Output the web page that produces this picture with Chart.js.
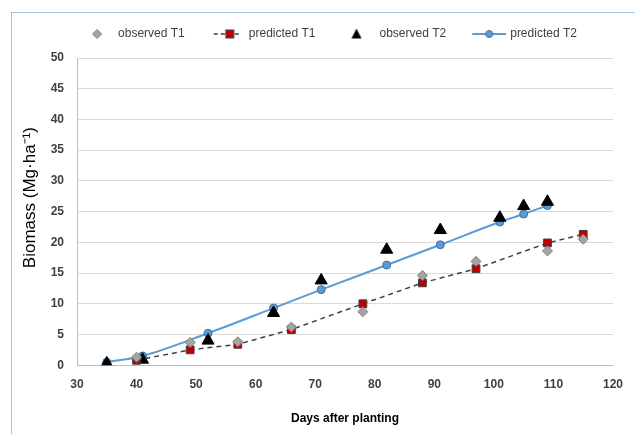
<!DOCTYPE html>
<html>
<head>
<meta charset="utf-8">
<script src="https://cdn.jsdelivr.net/npm/chart.js@4.4.1/dist/chart.umd.min.js"></script>
<style>
  html, body { margin: 0; padding: 0; background: #fff; }
  #wrap { width: 635px; height: 434px; }
</style>
</head>
<body>
<div id="wrap"><canvas id="biomassChart" width="635" height="434"></canvas></div>
<script>
// days after planting
const daysT1 = [40, 49, 57, 66, 78, 88, 97, 109, 115];
const daysT2 = [35, 41, 52, 63, 71, 82, 91, 101, 105, 109];

// biomass, Mg/ha
const observedT1 = [1.3, 3.7, 3.8, 6.2, 8.7, 14.6, 16.9, 18.6, 20.5];
const predictedT1 = [0.8, 2.5, 3.4, 5.8, 10.0, 13.4, 15.7, 19.9, 21.3];
const observedT2 = [0.3, 0.9, 4.0, 8.5, 13.8, 18.8, 22.0, 24.0, 25.9, 26.6];
const predictedT2 = [0.5, 1.5, 5.2, 9.3, 12.3, 16.3, 19.6, 23.3, 24.6, 26.0];

const seriesNames = ['observed T1', 'predicted T1', 'observed T2', 'predicted T2'];
const yTitle = 'Biomass (Mg·ha⁻¹)';
const xTitle = 'Days after planting';

function toPoints(xs, ys) {
    return xs.map((x, i) => ({ x: x, y: ys[i] }));
}

// little legend pictures: marker, optionally with a line through it
function legendIcon(kind) {
    const c = document.createElement('canvas');
    c.width = 40;
    c.height = 14;
    const g = c.getContext('2d');
    const cy = 7;
    if (kind === 'predT1') {
        const cx = 25;
        g.strokeStyle = '#404040';
        g.lineWidth = 1.5;
        g.setLineDash([4, 3]);
        g.beginPath(); g.moveTo(9, cy); g.lineTo(37, cy); g.stroke();
        g.setLineDash([]);
        g.fillStyle = '#C00000';
        g.strokeStyle = '#404040';
        g.lineWidth = 1;
        g.fillRect(cx - 4, cy - 4, 8, 8);
        g.strokeRect(cx - 4, cy - 4, 8, 8);
    } else if (kind === 'predT2') {
        const cx = 23;
        g.strokeStyle = '#5B9BD5';
        g.lineWidth = 2;
        g.beginPath(); g.moveTo(6, cy); g.lineTo(40, cy); g.stroke();
        g.fillStyle = '#5B9BD5';
        g.strokeStyle = '#41719C';
        g.lineWidth = 1;
        g.beginPath(); g.arc(cx, cy, 3.5, 0, Math.PI * 2); g.fill(); g.stroke();
    } else if (kind === 'obsT1') {
        const cx = 23;
        g.fillStyle = '#A5A5A5';
        g.strokeStyle = '#7F7F7F';
        g.lineWidth = 1;
        g.beginPath();
        g.moveTo(cx, cy - 4.5); g.lineTo(cx + 4.5, cy); g.lineTo(cx, cy + 4.5); g.lineTo(cx - 4.5, cy);
        g.closePath(); g.fill(); g.stroke();
    } else {
        const cx = 21;
        g.fillStyle = '#000';
        g.beginPath();
        g.moveTo(cx, cy - 5.5); g.lineTo(cx + 5, cy + 4.5); g.lineTo(cx - 5, cy + 4.5);
        g.closePath(); g.fill();
    }
    return c;
}

const icons = [legendIcon('obsT1'), legendIcon('predT1'), legendIcon('obsT2'), legendIcon('predT2')];

const FONT = "'Liberation Sans', Arial, sans-serif";

const frame = {
    id: 'frame',
    beforeLayout(chart) {
        // leave a bit more room under the legend
        const lg = chart.legend;
        if (lg && !lg._roomy) {
            const fit = lg.fit;
            lg.fit = function () { fit.call(this); this.height += 8; };
            lg._roomy = true;
        }
    },
    afterLayout(chart) {
        // the legend row sits a little right of centre
        const lg = chart.legend;
        if (lg) { lg.left += 6; lg.right += 6; }
    },
    beforeDraw(chart) {
        const ctx = chart.ctx;
        ctx.save();
        ctx.strokeStyle = '#9DC3E6';
        ctx.lineWidth = 1;
        ctx.strokeRect(11.5, 12.5, 700, 500);
        ctx.restore();
    },
    afterDraw(chart) {
        // y title sits above the middle of the axis
        const ctx = chart.ctx;
        const area = chart.chartArea;
        ctx.save();
        ctx.translate(30, (area.top + area.bottom) / 2 - 14);
        ctx.rotate(-Math.PI / 2);
        ctx.textAlign = 'center';
        ctx.textBaseline = 'middle';
        ctx.fillStyle = '#000';
        ctx.font = '17px ' + FONT;
        ctx.fillText(yTitle, 0, 0);
        ctx.restore();
    }
};

new Chart(document.getElementById('biomassChart').getContext('2d'), {
    type: 'scatter',
    data: {
        datasets: [
            {
                label: seriesNames[0],
                data: toPoints(daysT1, observedT1),
                pointStyle: 'rectRot',
                pointRadius: 5,
                backgroundColor: '#A5A5A5',
                borderColor: '#7F7F7F',
                borderWidth: 1,
                showLine: false
            },
            {
                label: seriesNames[1],
                data: toPoints(daysT1, predictedT1),
                pointStyle: 'rect',
                pointRadius: 5.5,
                pointBackgroundColor: '#C00000',
                pointBorderColor: '#404040',
                pointBorderWidth: 1,
                borderColor: '#404040',
                borderWidth: 1.5,
                borderDash: [5, 4],
                showLine: true
            },
            {
                label: seriesNames[2],
                data: toPoints(daysT2, observedT2),
                pointStyle: 'triangle',
                pointRadius: 7,
                backgroundColor: '#000',
                borderColor: '#000',
                borderWidth: 1,
                showLine: false
            },
            {
                label: seriesNames[3],
                data: toPoints(daysT2, predictedT2),
                pointStyle: 'circle',
                pointRadius: 4,
                pointBackgroundColor: '#5B9BD5',
                pointBorderColor: '#41719C',
                pointBorderWidth: 1,
                borderColor: '#5B9BD5',
                borderWidth: 2,
                cubicInterpolationMode: 'monotone',
                showLine: true
            }
        ]
    },
    options: {
        responsive: false,
        animation: false,
        layout: { padding: { left: 20, right: 14, top: 6, bottom: 8 } },
        plugins: {
            tooltip: { enabled: false },
            legend: {
                position: 'top',
                align: 'center',
                labels: {
                    usePointStyle: true,
                    pointStyleWidth: 36,
                    padding: 22,
                    color: '#404040',
                    font: { family: FONT, size: 12 },
                    generateLabels(chart) {
                        return chart.data.datasets.map((ds, i) => ({
                            text: ds.label,
                            pointStyle: icons[i],
                            fillStyle: 'transparent',
                            strokeStyle: 'transparent',
                            lineWidth: 0,
                            fontColor: '#404040',
                            datasetIndex: i,
                            hidden: false
                        }));
                    }
                }
            }
        },
        scales: {
            x: {
                type: 'linear',
                min: 30,
                max: 120,
                ticks: {
                    stepSize: 10,
                    padding: 12,
                    color: '#404040',
                    font: { family: FONT, size: 12, weight: 'bold' }
                },
                grid: { display: false, drawTicks: false },
                border: { color: '#9DC3E6', width: 1 },
                title: {
                    display: true,
                    text: xTitle,
                    color: '#000',
                    padding: { top: 8, bottom: 0 },
                    font: { family: FONT, size: 12, weight: 'bold' }
                }
            },
            y: {
                min: 0,
                max: 50,
                ticks: {
                    stepSize: 5,
                    padding: 13,
                    color: '#404040',
                    font: { family: FONT, size: 12, weight: 'bold' }
                },
                grid: { color: '#D9D9D9', lineWidth: 1, drawTicks: false },
                border: { color: '#9DC3E6', width: 1 },
                title: { display: false },
                afterFit(scale) { scale.width = 57; }
            }
        }
    },
    plugins: [frame]
});
</script>
</body>
</html>
